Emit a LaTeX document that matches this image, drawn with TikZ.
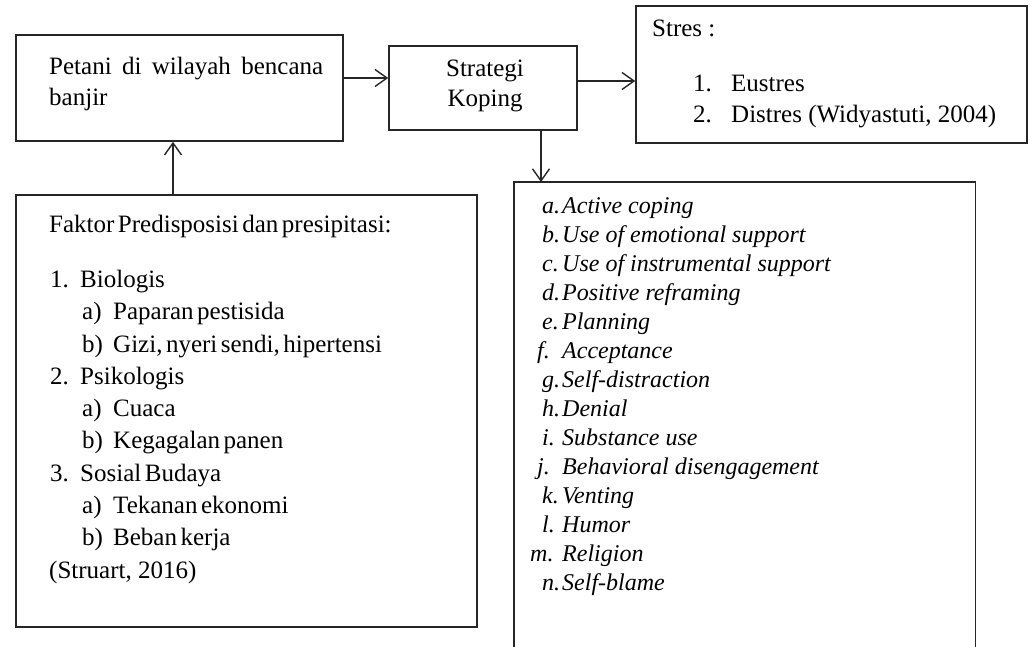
\documentclass[tikz,border=0pt]{standalone}
\usepackage{fontspec}
\setmainfont{Liberation Serif}
\usetikzlibrary{arrows.meta,calc}
\definecolor{linegray}{HTML}{262626}
\newcommand{\mytightspace}{\spaceskip=3.5pt plus 0.5pt\relax}
\tikzset{
  box/.style={draw=linegray, line width=1.6pt, fill=white, inner sep=0pt},
  boxline/.style={draw=linegray, line width=1.6pt},
  arr/.style={draw=linegray, line width=1.4pt, -{Straight Barb[length=12pt,width=17pt,line width=1.4pt]}},
  txt/.style={anchor=base west, inner sep=0pt, font=\fontsize{25}{30}\selectfont},
  dtxt/.style={anchor=base west, inner sep=0pt, font=\fontsize{25}{30}\selectfont},
  ctxt/.style={anchor=base, inner sep=0pt, font=\fontsize{25}{30}\selectfont},
  itxt/.style={anchor=base west, inner sep=0pt, font=\fontsize{24}{29}\selectfont\itshape},
}
\begin{document}
\begin{tikzpicture}[x=1pt,y=-1pt]
\useasboundingbox[fill=white] (0,0) rectangle (1030,647);
% boxes
\node[box, minimum width=327pt, minimum height=106pt] (A) at (179.5,88) {};
\node[box, minimum width=188pt, minimum height=84pt] (B) at (483,88) {};
\node[box, minimum width=391pt, minimum height=137pt] (C) at (831.5,74.5) {};
\node[box, minimum width=461pt, minimum height=432pt] (D) at (246.5,411) {};
\node[inner sep=0pt, minimum width=461pt, minimum height=465pt, anchor=north west] (E) at (514,182) {};
\fill[white] (E.south west) rectangle (E.north east);
\draw[boxline] (E.south west) -- (E.north west) -- (E.north east) -- (E.south east);
% connectors
\draw[arr] ([yshift=10pt]A.east) -- ([yshift=10pt]A.east -| B.west);
\draw[arr] ([yshift=7pt]B.east) -- ([yshift=7pt]B.east -| C.west);
\draw[arr] ([xshift=58pt]B.south) -- ([xshift=58pt]B.south |- E.north);
\draw[arr] ([xshift=-73.5pt]D.north) -- ([xshift=-73.5pt]D.north |- A.south);
% box A text
\node[txt] (a1) at (49,75) {\makebox[274pt][s]{Petani di wilayah bencana}};
\node[txt] (a2) at (49,106) {banjir};
% box B text
\node[ctxt] (b1) at (485,77) {Strategi};
\node[ctxt] (b2) at (485,107) {Koping};
% box C text
\node[txt] (c0) at (652,37) {Stres :};
\node[txt] (c1n) at (693,92) {1.};
\node[txt] (c1) at (731,92) {Eustres};
\node[txt] (c2n) at (693,123) {2.};
\node[txt] (c2) at (731,123) {Distres (Widyastuti, 2004)};
% box D text
\node[dtxt] (d0) at (49,233) {\mytightspace Faktor Predisposisi dan presipitasi:};
\node[dtxt] (d1n) at (50,287) {1.};
\node[dtxt] (d1) at (80,287) {Biologis};
\node[dtxt] (d1an) at (82,319) {a)};
\node[dtxt] (d1a) at (113,319) {\mytightspace Paparan pestisida};
\node[dtxt] (d1bn) at (82,352) {b)};
\node[dtxt] (d1b) at (113,352) {\mytightspace Gizi, nyeri sendi, hipertensi};
\node[dtxt] (d2n) at (50,384) {2.};
\node[dtxt] (d2) at (80,384) {Psikologis};
\node[dtxt] (d2an) at (82,416) {a)};
\node[dtxt] (d2a) at (113,416) {Cuaca};
\node[dtxt] (d2bn) at (82,448.5) {b)};
\node[dtxt] (d2b) at (113,448.5) {\mytightspace Kegagalan panen};
\node[dtxt] (d3n) at (50,481) {3.};
\node[dtxt] (d3) at (80,481) {\mytightspace Sosial Budaya};
\node[dtxt] (d3an) at (82,513) {a)};
\node[dtxt] (d3a) at (113,513) {\mytightspace Tekanan ekonomi};
\node[dtxt] (d3bn) at (82,545) {b)};
\node[dtxt] (d3b) at (113,545) {\mytightspace Beban kerja};
\node[dtxt] (d4) at (49,578) {(Struart, 2016)};
% box E text
\node[itxt] (e1) at (542,213) {\makebox[20pt][l]{a.}Active coping};
\node[itxt] (e2) at (542,242) {\makebox[20pt][l]{b.}Use of emotional support};
\node[itxt] (e3) at (542,271) {\makebox[20pt][l]{c.}Use of instrumental support};
\node[itxt] (e4) at (542,300) {\makebox[20pt][l]{d.}Positive reframing};
\node[itxt] (e5) at (542,329) {\makebox[20pt][l]{e.}Planning};
\node[itxt] (e6) at (537,358) {\makebox[25pt][l]{f.}Acceptance};
\node[itxt] (e7) at (542,387) {\makebox[20pt][l]{g.}Self-distraction};
\node[itxt] (e8) at (542,416) {\makebox[20pt][l]{h.}Denial};
\node[itxt] (e9) at (542,445) {\makebox[20pt][l]{i.}Substance use};
\node[itxt] (e10) at (537,474) {\makebox[25pt][l]{j.}Behavioral disengagement};
\node[itxt] (e11) at (542,503) {\makebox[20pt][l]{k.}Venting};
\node[itxt] (e12) at (542,532) {\makebox[20pt][l]{l.}Humor};
\node[itxt] (e13) at (530,561) {\makebox[32pt][l]{m.}Religion};
\node[itxt] (e14) at (542,590) {\makebox[20pt][l]{n.}Self-blame};
\end{tikzpicture}
\end{document}
